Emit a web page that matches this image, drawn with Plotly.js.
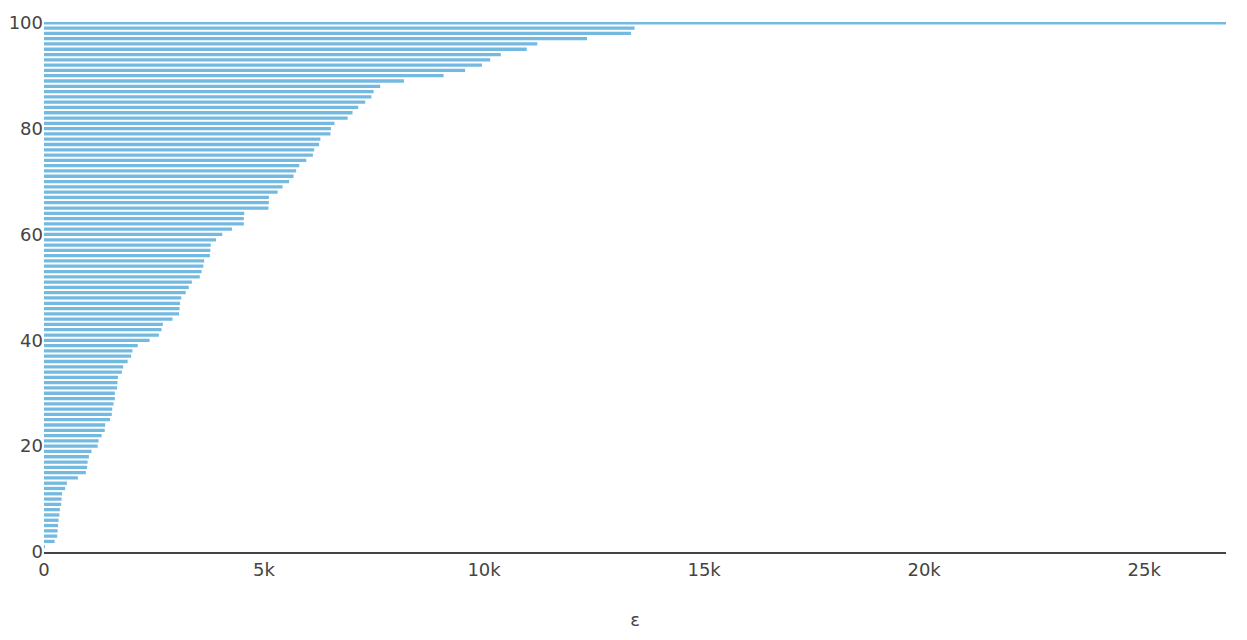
<!DOCTYPE html>
<html>
<head>
<meta charset="utf-8">
<script src="https://cdn.plot.ly/plotly-3.0.1.min.js"></script>
<style>html,body{margin:0;padding:0;background:#fff;}#chart{width:1247px;height:640px;}</style>
</head>
<body>
<div id="chart"></div>
<script>
const percentiles = [0,1,2,3,4,5,6,7,8,9,10,11,12,13,14,15,16,17,18,19,20,21,22,23,24,25,26,27,28,29,30,31,32,33,34,35,36,37,38,39,40,41,42,43,44,45,46,47,48,49,50,51,52,53,54,55,56,57,58,59,60,61,62,63,64,65,66,67,68,69,70,71,72,73,74,75,76,77,78,79,80,81,82,83,84,85,86,87,88,89,90,91,92,93,94,95,96,97,98,99,100];
const epsilonValues = [0,20,240,300,310,320,330,350,360,390,400,410,480,520,770,950,980,990,1020,1080,1220,1240,1310,1380,1390,1500,1540,1550,1580,1610,1610,1660,1670,1680,1770,1800,1900,1980,2010,2130,2400,2610,2670,2700,2920,3070,3080,3090,3120,3220,3290,3360,3540,3580,3620,3640,3770,3780,3790,3910,4050,4270,4540,4540,4550,5100,5110,5110,5310,5420,5570,5670,5730,5800,5960,6110,6140,6250,6280,6510,6520,6600,6900,7010,7140,7300,7440,7490,7640,8180,9080,9570,9950,10140,10380,10970,11210,12340,13340,13420,26860];
const xTitle = "ε";

Plotly.newPlot('chart', [{
  type: 'bar',
  orientation: 'h',
  x: epsilonValues,
  y: percentiles,
  marker: {color: '#74b9e0'},
  hoverinfo: 'x+y'
}], {
  width: 1247,
  height: 640,
  margin: {l: 44, r: 21, t: 22, b: 88},
  font: {family: 'DejaVu Sans, Verdana, sans-serif', size: 18, color: '#444'},
  bargap: 0.38,
  showlegend: false,
  plot_bgcolor: '#fff',
  paper_bgcolor: '#fff',
  xaxis: {
    range: [0, 26860],
    dtick: 5000,
    showgrid: false,
    zeroline: false,
    showline: true,
    linecolor: '#444',
    linewidth: 2,
    ticks: '',
    title: {text: xTitle, font: {size: 18}, standoff: 35}
  },
  yaxis: {
    range: [0, 100.15],
    dtick: 20,
    showgrid: false,
    zeroline: false,
    showline: false,
    ticks: ''
  }
}, {displayModeBar: false});
</script>
</body>
</html>
